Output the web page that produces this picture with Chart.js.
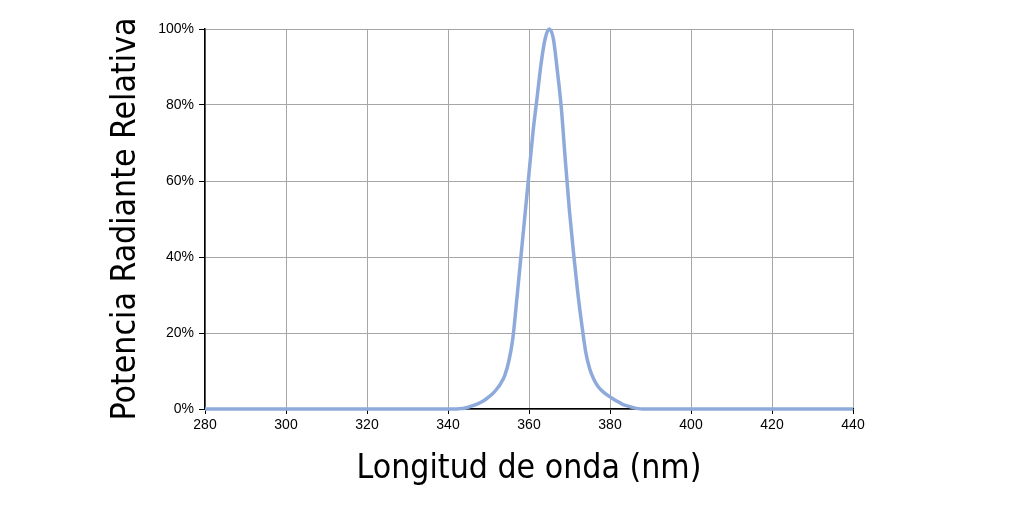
<!DOCTYPE html>
<html lang="es">
<head>
  <meta charset="UTF-8">
  <title>Potencia Radiante Relativa</title>
  <script src="https://cdn.jsdelivr.net/npm/chart.js@4/dist/chart.umd.min.js"></script>
  <style>
    html, body { margin: 0; padding: 0; background: #fff; }
    #wrap { width: 1024px; height: 516px; }
  </style>
</head>
<body>
  <div id="wrap"><canvas id="spectrum"></canvas></div>
  <script>
// longitud de onda (nm) y potencia relativa (%)
const wavelengths = [280, 300, 320, 340, 342, 343, 344, 345, 346, 347, 348, 349, 350,
  351, 352, 353, 354, 355, 356, 357, 358, 359, 360, 361, 362, 363, 364, 365,
  366, 367, 368, 369, 370, 371, 372, 373, 374, 375, 376, 377, 378, 379, 380,
  381, 382, 383, 384, 385, 386, 387, 388, 400, 420, 440];
const power = [0, 0, 0, 0, 0, 0.1, 0.2, 0.5, 0.8, 1.2, 1.7, 2.3, 3.1,
  4.0, 5.2, 6.7, 8.8, 12.5, 18.5, 29, 40, 51, 62, 73, 82, 91, 97.5, 100,
  97.5, 89, 79, 65, 52, 41, 31, 22.5, 15, 10.5, 7.8, 6.0, 4.8, 3.9, 3.2,
  2.5, 1.9, 1.3, 0.9, 0.6, 0.3, 0.1, 0, 0, 0, 0];
const xTicks = [280, 300, 320, 340, 360, 380, 400, 420, 440];
const yTicks = [0, 20, 40, 60, 80, 100];

const FONT = '"DejaVu Sans Condensed", "Liberation Sans", sans-serif';
const tickFont = { family: '"Liberation Sans", sans-serif', size: 14 };

new Chart('spectrum', {
  type: 'line',
  data: {
    datasets: [{
      data: wavelengths.map((w, i) => ({ x: w, y: power[i] })),
      borderColor: '#8eaadb',
      borderWidth: 3.5,
      pointRadius: 0,
      cubicInterpolationMode: 'monotone',
      fill: false,
      clip: 6
    }]
  },
  options: {
    responsive: true,
    maintainAspectRatio: false,
    animation: false,
    layout: { padding: { top: 29, right: 171, left: 0, bottom: 0 } },
    plugins: { legend: { display: false }, tooltip: { enabled: false } },
    scales: {
      x: {
        type: 'linear',
        min: 280, max: 440,
        afterBuildTicks: s => { s.ticks = xTicks.map(v => ({ value: v })); },
        afterFit: s => { s.height = 107; },
        grid: { color: '#a6a6a6', lineWidth: 1, tickColor: '#000', tickLength: 5 },
        border: { color: '#000', width: 1.5 },
        ticks: { color: '#000', font: tickFont, padding: 3, maxRotation: 0 },
        title: {
          display: true, text: 'Longitud de onda (nm)', color: '#000',
          font: { family: FONT, size: 33.5 }, padding: { top: 0, bottom: 27 }
        }
      },
      y: {
        min: 0, max: 100,
        afterBuildTicks: s => { s.ticks = yTicks.map(v => ({ value: v })); },
        afterFit: s => { s.width = 205; },
        grid: { color: '#a6a6a6', lineWidth: 1, tickColor: '#000', tickLength: 6 },
        border: { color: '#000', width: 1.5 },
        ticks: { color: '#000', font: tickFont, padding: 5, callback: v => v + '%' },
        title: {
          display: true, text: 'Potencia Radiante Relativa', color: '#000',
          font: { family: FONT, size: 33.5 }, padding: { top: 106, bottom: 0 }
        }
      }
    }
  }
});
  </script>
</body>
</html>
